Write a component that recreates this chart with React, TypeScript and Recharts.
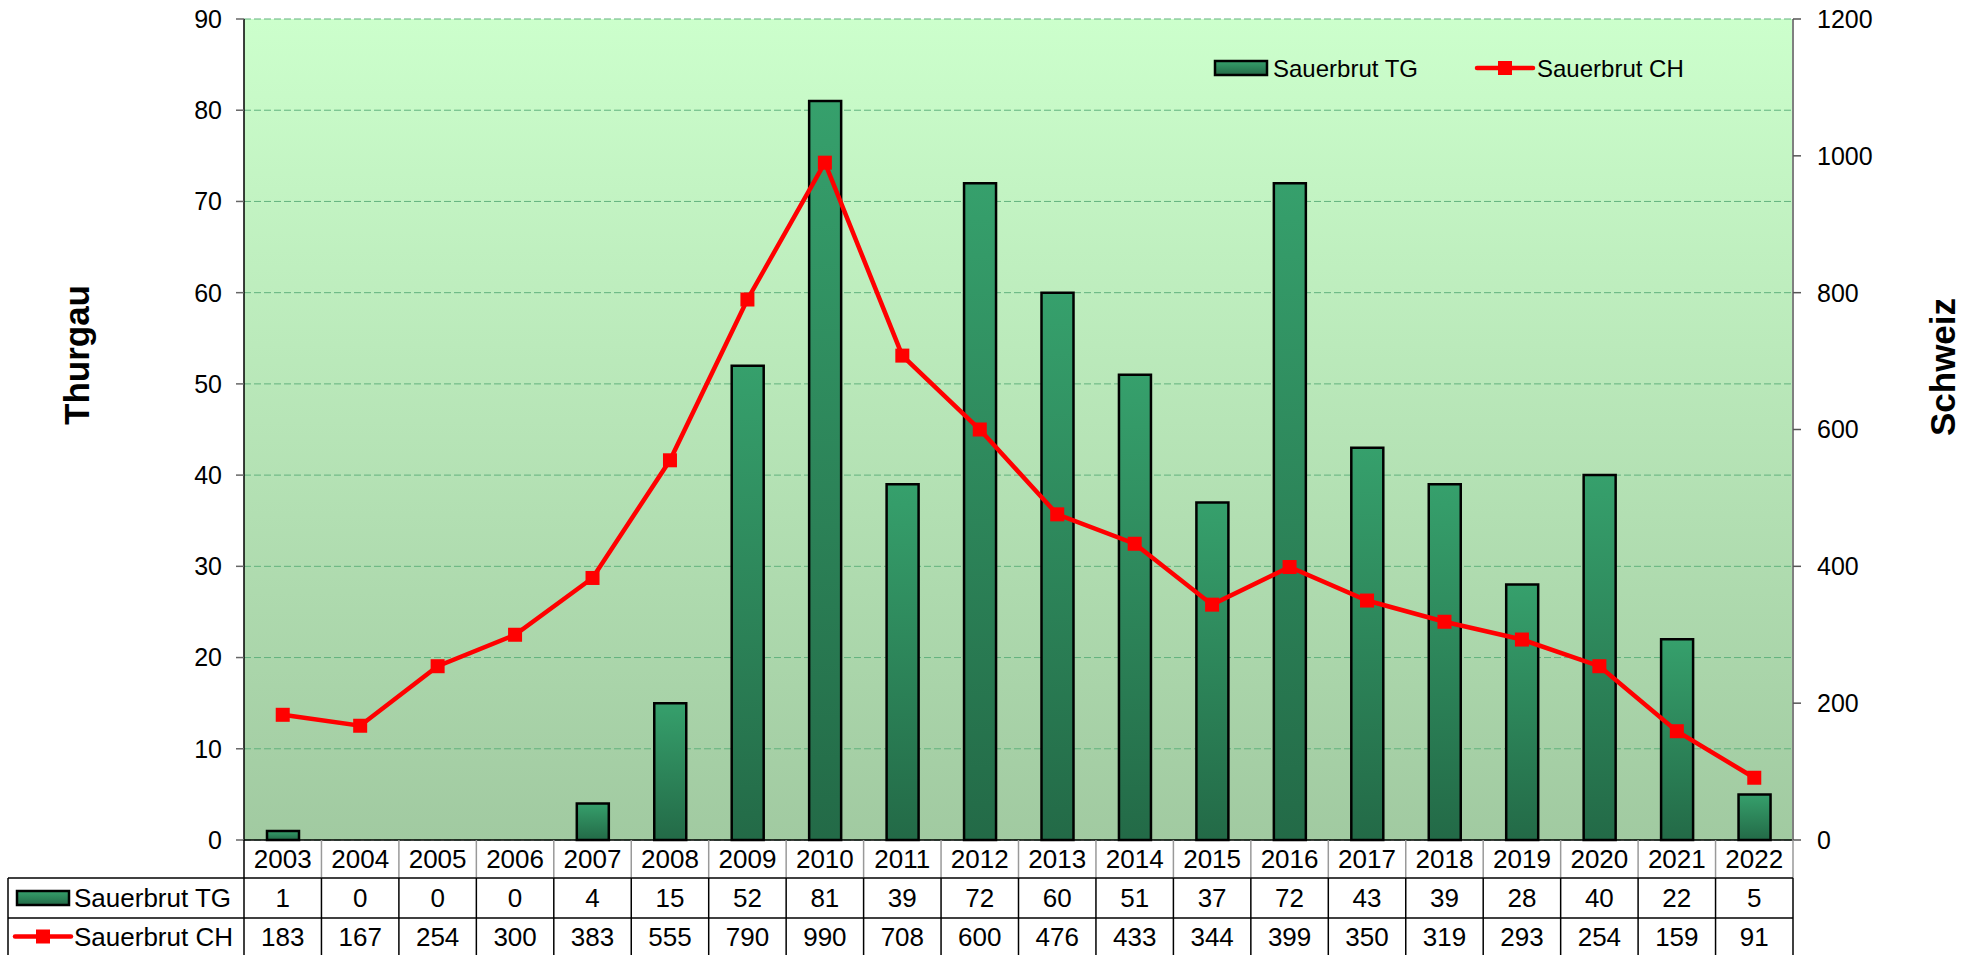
import React from "react";
import { ComposedChart, Bar, Line, XAxis, YAxis, CartesianGrid } from "recharts";

const years = [
  "2003", "2004", "2005", "2006", "2007", "2008", "2009", "2010", "2011", "2012",
  "2013", "2014", "2015", "2016", "2017", "2018", "2019", "2020", "2021", "2022",
];
const tgCases = [1, 0, 0, 0, 4, 15, 52, 81, 39, 72, 60, 51, 37, 72, 43, 39, 28, 40, 22, 5];
const chCases = [183, 167, 254, 300, 383, 555, 790, 990, 708, 600, 476, 433, 344, 399, 350, 319, 293, 254, 159, 91];
const leftTicks = [0, 10, 20, 30, 40, 50, 60, 70, 80, 90];
const rightTicks = [0, 200, 400, 600, 800, 1000, 1200];
const seriesNames = ["Sauerbrut TG", "Sauerbrut CH"];

const data = years.map((year, i) => ({ year, tg: tgCases[i], ch: chCases[i] }));

const FONT = '"Liberation Sans", Arial, sans-serif';
const PLOT_LEFT = 244;
const PLOT_RIGHT = 1793;
const TABLE_LEFT = 8;
const CELL_W = (PLOT_RIGHT - PLOT_LEFT) / years.length;
const ROW_H = [38, 40, 37];

function TgKey({ x, y }: { x: number; y: number }) {
  return (
    <rect x={x} y={y - 7} width={52} height={14} fill="url(#barGrad)" stroke="#000" strokeWidth={2.5} />
  );
}

function ChKey({ x, y }: { x: number; y: number }) {
  return (
    <g>
      <line x1={x} y1={y} x2={x + 56} y2={y} stroke="#FF0000" strokeWidth={4.5} strokeLinecap="round" />
      <rect x={x + 21} y={y - 7} width={14} height={14} fill="#FF0000" />
    </g>
  );
}

function TableTick(props: any) {
  const { x, y, payload } = props;
  const i = years.indexOf(String(payload.value));
  const left = x - CELL_W / 2;
  const right = x + CELL_W / 2;
  const r1 = y + ROW_H[0];
  const r2 = r1 + ROW_H[1];
  const r3 = r2 + ROW_H[2];
  const txt = { fontFamily: FONT, fontSize: 26, fill: "#000", textAnchor: "middle" as const };
  return (
    <g>
      {i === 0 && (
        <g>
          <rect x={TABLE_LEFT} y={r1} width={PLOT_LEFT - TABLE_LEFT} height={r3 - r1} fill="#fff" />
          <line x1={TABLE_LEFT} y1={r1} x2={left} y2={r1} stroke="#000" strokeWidth={1.5} />
          <line x1={TABLE_LEFT} y1={r2} x2={left} y2={r2} stroke="#000" strokeWidth={1.5} />
          <line x1={TABLE_LEFT} y1={r1} x2={TABLE_LEFT} y2={r3} stroke="#000" strokeWidth={1.5} />
          <line x1={left} y1={y} x2={left} y2={r3} stroke="#000" strokeWidth={1.5} />
          <TgKey x={17} y={(r1 + r2) / 2} />
          <ChKey x={15} y={(r2 + r3) / 2} />
          <text x={74} y={(r1 + r2) / 2} dy="0.36em" fontFamily={FONT} fontSize={26} fill="#000">
            {seriesNames[0]}
          </text>
          <text x={74} y={(r2 + r3) / 2} dy="0.36em" fontFamily={FONT} fontSize={26} fill="#000">
            {seriesNames[1]}
          </text>
        </g>
      )}
      <line x1={right} y1={y} x2={right} y2={r1} stroke="#999" strokeWidth={1.5} />
      <line x1={right} y1={r1} x2={right} y2={r3} stroke="#000" strokeWidth={1.5} />
      <line x1={left} y1={r1} x2={right} y2={r1} stroke="#000" strokeWidth={1.5} />
      <line x1={left} y1={r2} x2={right} y2={r2} stroke="#000" strokeWidth={1.5} />
      <text x={x} y={y + ROW_H[0] / 2} dy="0.36em" {...txt}>{years[i]}</text>
      <text x={x} y={(r1 + r2) / 2} dy="0.36em" {...txt}>{tgCases[i]}</text>
      <text x={x} y={(r2 + r3) / 2} dy="0.36em" {...txt}>{chCases[i]}</text>
    </g>
  );
}

function AxisTitle({ titleX, titleY, text }: any) {
  return (
    <text
      transform={`translate(${titleX},${titleY}) rotate(-90)`}
      textAnchor="middle"
      dy="0.36em"
      fontFamily={FONT}
      fontSize={35}
      fontWeight="bold"
      fill="#000"
    >
      {text}
    </text>
  );
}

function SquareDot(p: any) {
  return <rect key={`dot-${p.index}`} x={p.cx - 7} y={p.cy - 7} width={14} height={14} fill="#FF0000" />;
}

function ChartLegend() {
  return (
    <svg
      width={560}
      height={40}
      style={{ position: "absolute", left: 1200, top: 48, overflow: "visible" }}
    >
      <TgKey x={15} y={20} />
      <text x={73} y={20} dy="0.36em" fontFamily={FONT} fontSize={24} fill="#000">
        {seriesNames[0]}
      </text>
      <ChKey x={277} y={20} />
      <text x={337} y={20} dy="0.36em" fontFamily={FONT} fontSize={24} fill="#000">
        {seriesNames[1]}
      </text>
    </svg>
  );
}

export default function App() {
  const tickStyle = { fill: "#000", fontSize: 25, fontFamily: FONT };
  return (
    <div style={{ position: "absolute", left: 0, top: 0, width: 1981, height: 955, background: "#fff" }}>
      <ComposedChart
        width={1981}
        height={955}
        data={data}
        margin={{ top: 19, right: 88, bottom: 0, left: 184 }}
        barCategoryGap={0}
      >
        <defs>
          <linearGradient id="bgGrad" x1="0" y1="0" x2="0" y2="1">
            <stop offset="0%" stopColor="#CCFFCC" />
            <stop offset="100%" stopColor="#A1CAA1" />
          </linearGradient>
          <linearGradient id="barGrad" x1="0" y1="0" x2="0" y2="1">
            <stop offset="0%" stopColor="#36A06C" />
            <stop offset="100%" stopColor="#236A47" />
          </linearGradient>
        </defs>
        <CartesianGrid
          vertical={false}
          stroke="#62B27E"
          strokeDasharray="7 3"
          fill="url(#bgGrad)"
          fillOpacity={1}
        />
        <XAxis
          dataKey="year"
          height={115}
          interval={0}
          tickSize={0}
          tickMargin={0}
          tickLine={false}
          axisLine={{ stroke: "#000", strokeWidth: 1.5 }}
          tick={<TableTick />}
        />
        <YAxis
          width={60}
          domain={[0, 90]}
          ticks={leftTicks}
          interval={0}
          tickSize={8}
          tickMargin={14}
          tick={tickStyle}
          tickLine={{ stroke: "#666", strokeWidth: 1.5 }}
          axisLine={{ stroke: "#000", strokeWidth: 1.5 }}
          label={<AxisTitle titleX={76} titleY={355} text="Thurgau" />}
        />
        <YAxis
          yAxisId="right"
          orientation="right"
          width={100}
          domain={[0, 1200]}
          ticks={rightTicks}
          interval={0}
          tickSize={8}
          tickMargin={16}
          tick={tickStyle}
          tickLine={{ stroke: "#555", strokeWidth: 1.5 }}
          axisLine={{ stroke: "#808080", strokeWidth: 2 }}
          label={<AxisTitle titleX={1942} titleY={367} text="Schweiz" />}
        />
        <Bar
          dataKey="tg"
          name={seriesNames[0]}
          fill="url(#barGrad)"
          stroke="#000"
          strokeWidth={2.5}
          barSize={32}
          isAnimationActive={false}
        />
        <Line
          dataKey="ch"
          name={seriesNames[1]}
          yAxisId="right"
          type="linear"
          stroke="#FF0000"
          strokeWidth={4.5}
          dot={SquareDot}
          activeDot={false}
          isAnimationActive={false}
        />
      </ComposedChart>
      <ChartLegend />
    </div>
  );
}
